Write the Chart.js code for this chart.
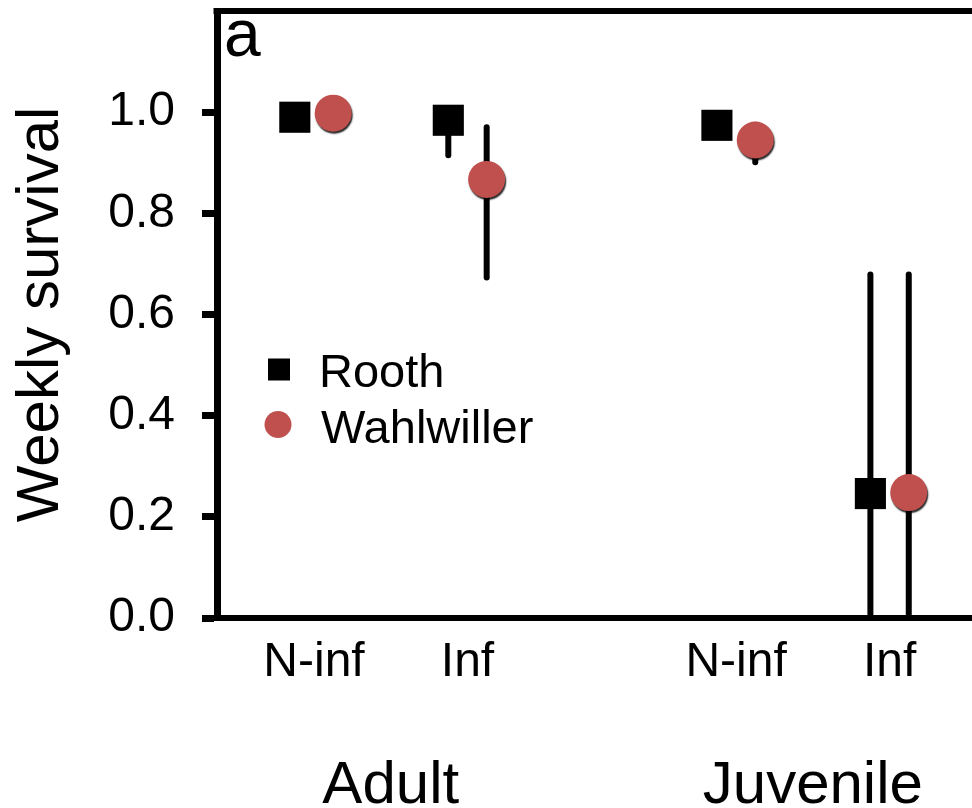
<!DOCTYPE html>
<html>
<head>
<meta charset="utf-8">
<title>Weekly survival</title>
<script src="https://cdn.jsdelivr.net/npm/chart.js@4.4.0/dist/chart.umd.min.js"></script>
<style>
    html, body { margin: 0; padding: 0; background: #fff; }
    #wrap { width: 972px; height: 808px; }
</style>
</head>
<body>
<div id="wrap"><canvas id="survival-chart" width="972" height="808"></canvas></div>
<script>
// ---- data ----
const categories = ['N-inf', 'Inf', 'N-inf', 'Inf'];
const categoryGroup = [0, 0, 1, 1];
const groups = ['Adult', 'Juvenile'];
const seriesNames = ['Rooth', 'Wahlwiller'];

const roothSurvival = [0.990, 0.984, 0.974, 0.246];
const roothLower = [0.980, 0.915, 0.960, 0.008];
const roothUpper = [1.000, 1.000, 0.985, 0.679];

const wahlwillerSurvival = [0.998, 0.867, 0.945, 0.248];
const wahlwillerLower = [0.990, 0.673, 0.901, 0.008];
const wahlwillerUpper = [1.000, 0.970, 0.975, 0.679];

const yTickValues = [0, 0.2, 0.4, 0.6, 0.8, 1.0];
const yTitle = 'Weekly survival';
const panelLabel = 'a';

// ---- layout helpers ----
const FONT = '"Liberation Sans", Arial, sans-serif';
const GROUP_GAP = 0.75;     // extra space between the Adult and Juvenile blocks
const SERIES_SHIFT = 0.125; // side-by-side dodge of the two sites
const RED = '#C0504D';

const categoryX = i => 1 + i + GROUP_GAP * categoryGroup[i];

const series = [
    {name: seriesNames[0], values: roothSurvival, lower: roothLower, upper: roothUpper, shift: -SERIES_SHIFT},
    {name: seriesNames[1], values: wahlwillerSurvival, lower: wahlwillerLower, upper: wahlwillerUpper, shift: SERIES_SHIFT}
];

// no automatic label overhang padding: the plot box is fixed
const noPadding = scale => {
    scale.paddingTop = 0;
    scale.paddingBottom = 0;
    scale.paddingLeft = 0;
    scale.paddingRight = 0;
};

const errorBarPlugin = {
    id: 'errorBars',
    beforeDatasetsDraw(chart) {
        const {ctx, scales: {x, y}} = chart;
        ctx.save();
        ctx.strokeStyle = '#000';
        ctx.lineWidth = 6;
        ctx.lineCap = 'round';
        series.forEach(s => {
            s.values.forEach((v, i) => {
                const px = x.getPixelForValue(categoryX(i) + s.shift);
                ctx.beginPath();
                ctx.moveTo(px, y.getPixelForValue(s.lower[i]));
                ctx.lineTo(px, y.getPixelForValue(s.upper[i]));
                ctx.stroke();
            });
        });
        ctx.restore();
    },
    beforeDatasetDraw(chart, args) {
        if (args.index === 1) {
            const ctx = chart.ctx;
            ctx.save();
            ctx.shadowColor = 'rgba(0,0,0,0.85)';
            ctx.shadowOffsetX = 1;
            ctx.shadowOffsetY = 2;
            ctx.shadowBlur = 1.5;
        }
    },
    afterDatasetDraw(chart, args) {
        if (args.index === 1) {
            chart.ctx.restore();
        }
    }
};

const decorationsPlugin = {
    id: 'decorations',
    afterDraw(chart) {
        const {ctx, chartArea, scales: {x}} = chart;
        ctx.save();

        // top frame line
        ctx.strokeStyle = '#000';
        ctx.lineWidth = 6;
        ctx.beginPath();
        ctx.moveTo(chartArea.left - 3.5, chartArea.top);
        ctx.lineTo(chartArea.right, chartArea.top);
        ctx.stroke();

        // panel letter
        ctx.fillStyle = '#000';
        ctx.font = '66px ' + FONT;
        ctx.textAlign = 'left';
        ctx.textBaseline = 'alphabetic';
        ctx.fillText(panelLabel, 224, 56);

        // legend
        ctx.font = '47px ' + FONT;
        ctx.fillStyle = '#000';
        ctx.fillRect(268, 358.5, 22, 22);
        ctx.fillText(series[0].name, 319, 387);
        ctx.fillStyle = RED;
        ctx.beginPath();
        ctx.arc(278, 424.5, 13.5, 0, Math.PI * 2);
        ctx.fill();
        ctx.fillStyle = '#000';
        ctx.fillText(series[1].name, 321, 443);

        // group labels under the category ticks
        ctx.font = '60px ' + FONT;
        ctx.textAlign = 'center';
        groups.forEach((g, gi) => {
            const members = categories.map((c, i) => i).filter(i => categoryGroup[i] === gi);
            const mid = members.reduce((a, i) => a + categoryX(i), 0) / members.length;
            ctx.fillText(g, x.getPixelForValue(mid), 803);
        });
        ctx.restore();
    }
};

new Chart(document.getElementById('survival-chart'), {
    type: 'scatter',
    data: {
        datasets: series.map((s, si) => ({
            label: s.name,
            data: s.values.map((v, i) => ({x: categoryX(i) + s.shift, y: v})),
            pointStyle: si === 0 ? 'rect' : 'circle',
            pointRadius: si === 0 ? 22 : 18.5,
            pointHoverRadius: si === 0 ? 22 : 18.5,
            pointBorderWidth: 0,
            backgroundColor: si === 0 ? '#000' : RED,
            borderColor: si === 0 ? '#000' : RED,
            clip: false
        }))
    },
    options: {
        responsive: false,
        devicePixelRatio: 1,
        animation: false,
        events: [],
        layout: {autoPadding: false, padding: {top: 11, right: 0, bottom: 0, left: 0}},
        plugins: {
            legend: {display: false},
            tooltip: {enabled: false}
        },
        scales: {
            x: {
                type: 'linear',
                min: 0.368,
                max: 5.287,
                afterFit: scale => { scale.height = 190; noPadding(scale); },
                afterBuildTicks: scale => {
                    scale.ticks = categories.map((c, i) => ({value: categoryX(i)}));
                },
                grid: {display: false, drawTicks: false},
                border: {display: true, color: '#000', width: 6},
                ticks: {
                    autoSkip: false,
                    maxRotation: 0,
                    padding: 16,
                    color: '#000',
                    font: {family: FONT, size: 48},
                    callback: value => {
                        const i = categories.findIndex((c, k) => Math.abs(categoryX(k) - value) < 1e-6);
                        return i >= 0 ? categories[i] : '';
                    }
                }
            },
            y: {
                min: 0,
                max: 1.2,
                afterFit: scale => { scale.width = 217; noPadding(scale); },
                afterBuildTicks: scale => {
                    scale.ticks = yTickValues.map(v => ({value: v}));
                },
                grid: {
                    display: true,
                    drawOnChartArea: false,
                    drawTicks: true,
                    tickLength: 15,
                    tickWidth: 7,
                    tickColor: '#000'
                },
                border: {display: true, color: '#000', width: 7},
                ticks: {
                    padding: 27,
                    color: '#000',
                    font: {family: FONT, size: 48},
                    callback: value => value.toFixed(1)
                },
                title: {
                    display: true,
                    text: yTitle,
                    color: '#000',
                    padding: {top: 5, bottom: 0},
                    font: {family: FONT, size: 60}
                }
            }
        }
    },
    plugins: [errorBarPlugin, decorationsPlugin]
});
</script>
</body>
</html>
